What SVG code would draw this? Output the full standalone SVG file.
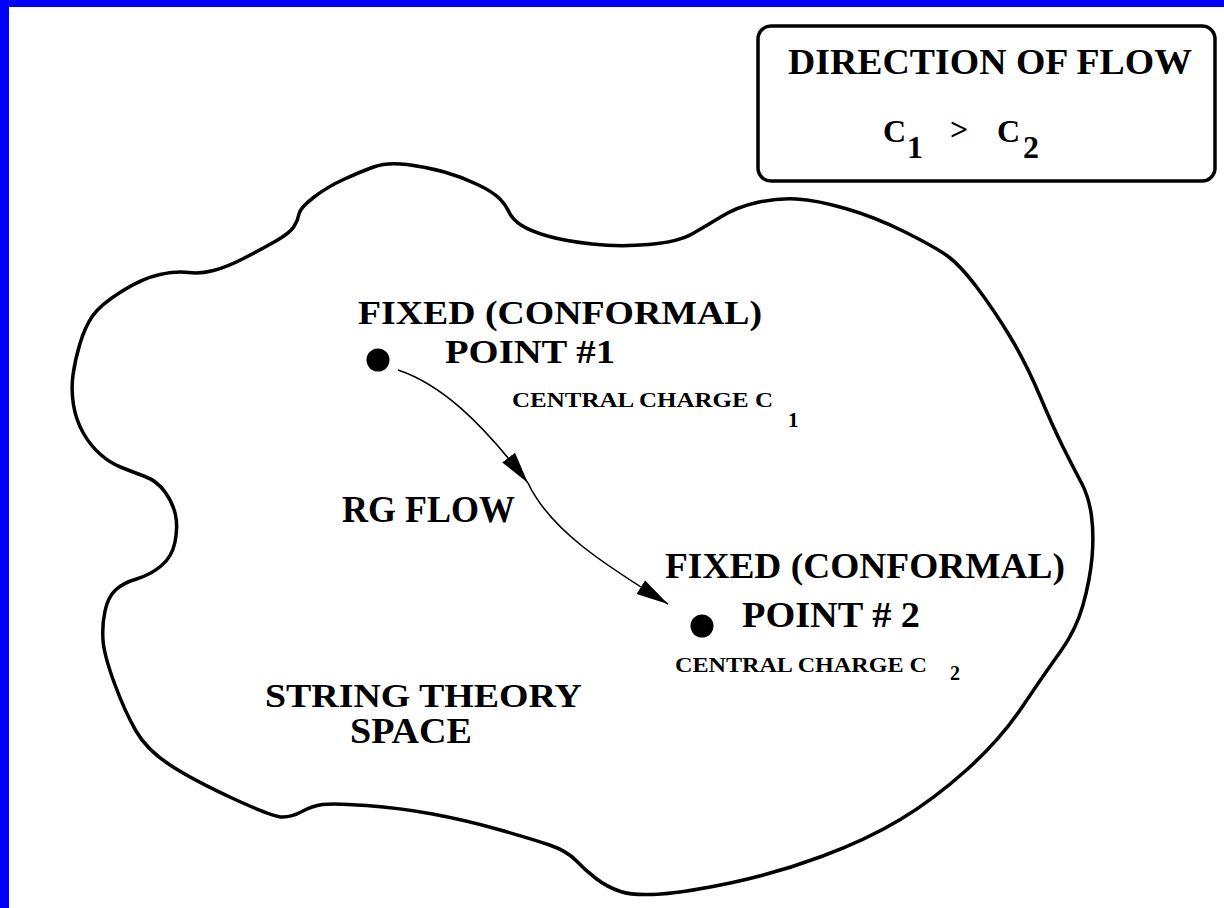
<svg xmlns="http://www.w3.org/2000/svg" width="1224" height="908" viewBox="0 0 1224 908">
<style>
.t{font-family:"Liberation Serif","Times New Roman",serif;font-weight:bold;fill:#000}
.blob{fill:none;stroke:#000;stroke-width:3.5;stroke-linejoin:round}
.flow{fill:none;stroke:#000;stroke-width:1.6}
.dot{fill:#000}
</style>
<defs>
<marker id="ah" markerUnits="userSpaceOnUse" markerWidth="34" markerHeight="18" refX="32" refY="8" orient="auto">
<path d="M0,0 L32,8 L0,16 z" fill="#000"/>
</marker>
</defs>
<rect x="0" y="0" width="1224" height="908" fill="#fff"/>
<rect x="0" y="0" width="1224" height="7" fill="#0000ff"/>
<rect x="0" y="0" width="9" height="908" fill="#0000ff"/>
<g id="space">
<path class="blob" d="M373.5,167 Q387,162 407,164.5 T444.5,172 T477.5,184.5 T499.5,198.5 T509,212 T521,225 T547.5,236 T592,244 T648.5,244.5 T692,234 T721.5,216.5 T757,202.5 T796.5,199 T845.5,208.5 T905,232 T947.5,256 T977,287.5 T1010,336.5 T1039.5,395 T1063,447 T1081,482 T1091.5,516 T1092,557.5 T1083,605 T1060.5,651.5 T1022.5,706.5 T966.5,770 T899.5,820 T821.5,856.5 T732.5,882.5 T661,894 T620.5,891.5 T596,878.5 T576,860.5 T549.5,845 T498.5,829.5 T432.5,814 T366.5,805.5 T322.5,804.5 T302,811.5 T282.5,817 T233,798.5 T170,765 T136,731 T114.5,683.5 T103,640 T105,611 T115.5,590 T136.5,579 T161,566 T175,542 T175.5,515 T165,492 T145,476.5 T121.5,467.5 T100,454 T83,432.5 T73.5,405 T73,375 T80,343.5 T92.5,316 T121.5,291.5 T160,274.5 T188.5,272.5 T213.5,270.5 T243.5,258.5 T275,241.5 T294,226.5 T299,214 T313.5,197.5 T343.5,179.5 T373.5,167 Z"/>
<text class="t" x="265" y="707" font-size="33" textLength="317" lengthAdjust="spacingAndGlyphs">STRING THEORY</text>
<text class="t" x="350" y="743" font-size="35" textLength="122" lengthAdjust="spacingAndGlyphs">SPACE</text>
</g>
<g id="legend">
<rect x="758" y="26" width="457" height="155" rx="13" ry="13" fill="#fff" stroke="#000" stroke-width="3.5"/>
<text class="t" x="788" y="74" font-size="36" textLength="404" lengthAdjust="spacingAndGlyphs">DIRECTION OF FLOW</text>
<text class="t" x="883" y="142" font-size="32">C</text>
<text class="t" x="907" y="158" font-size="32">1</text>
<text class="t" x="950" y="140" font-size="32">&gt;</text>
<text class="t" x="997" y="142" font-size="32">C</text>
<text class="t" x="1023" y="158" font-size="32">2</text>
</g>
<g id="point1">
<circle class="dot" cx="378" cy="360" r="11.5"/>
<text class="t" x="358" y="324" font-size="34" textLength="404" lengthAdjust="spacingAndGlyphs">FIXED (CONFORMAL)</text>
<text class="t" x="445" y="363" font-size="34" textLength="170" lengthAdjust="spacingAndGlyphs">POINT #1</text>
<text class="t" x="512" y="407" font-size="22" textLength="261" lengthAdjust="spacingAndGlyphs">CENTRAL CHARGE C</text>
<text class="t" x="788" y="427" font-size="21">1</text>
</g>
<g id="point2">
<circle class="dot" cx="702" cy="626" r="11.5"/>
<text class="t" x="665" y="578" font-size="35" textLength="400" lengthAdjust="spacingAndGlyphs">FIXED (CONFORMAL)</text>
<text class="t" x="742" y="627" font-size="36" textLength="178" lengthAdjust="spacingAndGlyphs">POINT # 2</text>
<text class="t" x="675" y="672" font-size="20" textLength="252" lengthAdjust="spacingAndGlyphs">CENTRAL CHARGE C</text>
<text class="t" x="950" y="680" font-size="20">2</text>
</g>
<g id="connectors">
<path class="flow" d="M398,370 C440,384 480,420 528,483" marker-end="url(#ah)"/>
<path class="flow" d="M528,483 C550,530 605,565 668,604" marker-end="url(#ah)"/>
<text class="t" x="342" y="522" font-size="37" textLength="173" lengthAdjust="spacingAndGlyphs">RG FLOW</text>
</g>
</svg>
